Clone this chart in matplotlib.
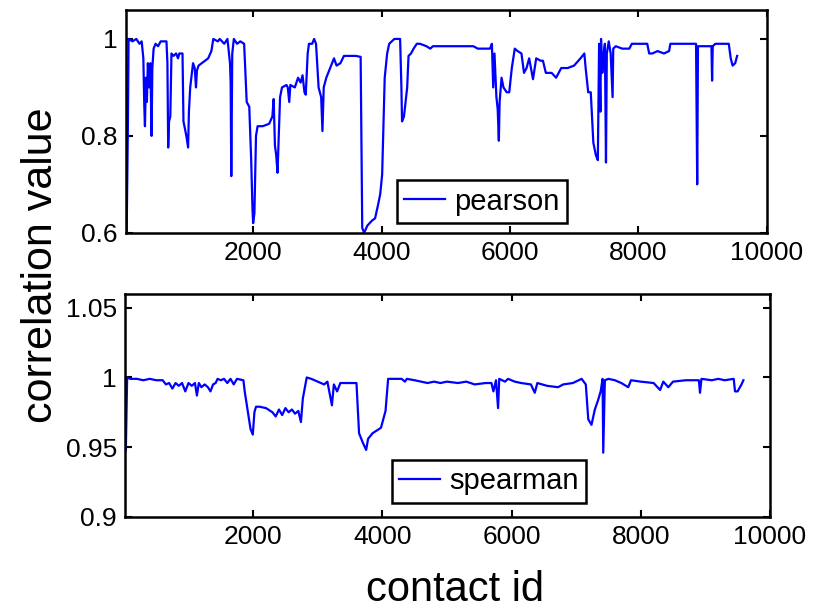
import matplotlib
matplotlib.use("Agg")
import matplotlib.pyplot as plt

plt.rcParams['font.family'] = ['Liberation Sans', 'DejaVu Sans']

# pearson correlation, breakpoints
pearson_x = [30, 50, 60, 120, 180, 230, 264, 290, 305, 315, 330, 345, 360, 380, 400, 418, 430, 450,
             480, 520, 560, 650, 665, 677, 690, 710, 728, 760, 800, 830, 850, 900, 915, 960, 987, 1000,
             1020, 1064, 1090, 1110, 1125, 1150, 1200, 1250, 1300, 1350, 1380, 1450, 1480, 1550, 1600,
             1640, 1650, 1660, 1675, 1700, 1750, 1800, 1860, 1880, 1900, 1940, 1970, 1990, 2000, 2020,
             2045, 2070, 2150, 2250, 2300, 2320, 2340, 2360, 2380, 2400, 2420, 2450, 2520, 2540, 2563,
             2580, 2650, 2700, 2740, 2770, 2800, 2820, 2850, 2870, 2920, 2950, 2980, 3020, 3060, 3080,
             3100, 3140, 3200, 3260, 3300, 3360, 3415, 3500, 3600, 3675, 3700, 3730, 3780, 3850, 3900,
             3950, 3980, 4010, 4050, 4088, 4120, 4200, 4290, 4310, 4320, 4350, 4400, 4421, 4460, 4500,
             4550, 4600, 4700, 4760, 4800, 5000, 5200, 5430, 5500, 5690, 5720, 5740, 5760, 5790, 5810,
             5828, 5840, 5870, 5900, 5950, 5990, 6030, 6076, 6120, 6180, 6220, 6260, 6300, 6360, 6410,
             6480, 6515, 6560, 6650, 6720, 6800, 6900, 7000, 7100, 7160, 7180, 7220, 7260, 7300, 7340,
             7370, 7390, 7410, 7420, 7440, 7460, 7480, 7497, 7510, 7540, 7570, 7600, 7610, 7650, 7750,
             7860, 7900, 8140, 8170, 8220, 8300, 8400, 8480, 8500, 8900, 8918, 8930, 9100, 9140, 9150,
             9160, 9200, 9410, 9440, 9470, 9510, 9540]
pearson_y = [0.60, 0.83, 1.0, 0.995, 1.0, 0.99, 0.995, 0.96, 0.86, 0.82, 0.92, 0.87, 0.95, 0.90, 0.95,
             0.80, 0.94, 0.98, 0.99, 0.985, 0.995, 0.995, 0.95, 0.776, 0.83, 0.84, 0.97, 0.965, 0.97,
             0.96, 0.97, 0.97, 0.83, 0.80, 0.776, 0.85, 0.90, 0.95, 0.94, 0.90, 0.935, 0.945, 0.95,
             0.955, 0.96, 0.975, 1.0, 0.995, 1.0, 0.99, 1.0, 0.95, 0.91, 0.717, 0.97, 1.0, 0.99, 0.995,
             0.99, 0.93, 0.87, 0.86, 0.75, 0.65, 0.62, 0.64, 0.80, 0.82, 0.82, 0.825, 0.84, 0.876, 0.78,
             0.76, 0.724, 0.80, 0.88, 0.90, 0.905, 0.90, 0.87, 0.905, 0.90, 0.92, 0.91, 0.925, 0.89,
             0.885, 0.97, 0.99, 0.99, 1.0, 0.99, 0.90, 0.88, 0.81, 0.90, 0.92, 0.94, 0.96, 0.945, 0.95,
             0.965, 0.965, 0.965, 0.963, 0.61, 0.60, 0.615, 0.625, 0.63, 0.66, 0.68, 0.72, 0.92, 0.97,
             0.99, 1.0, 1.0, 0.90, 0.83, 0.84, 0.90, 0.965, 0.97, 0.98, 0.99, 0.99, 0.985, 0.98, 0.985,
             0.985, 0.985, 0.985, 0.98, 0.98, 0.99, 0.90, 0.97, 0.88, 0.855, 0.79, 0.87, 0.92, 0.90,
             0.89, 0.89, 0.94, 0.98, 0.975, 0.97, 0.93, 0.94, 0.96, 0.917, 0.96, 0.955, 0.955, 0.93,
             0.93, 0.92, 0.94, 0.94, 0.945, 0.96, 0.97, 0.94, 0.89, 0.89, 0.786, 0.76, 0.75, 0.99, 0.85,
             1.0, 0.93, 0.97, 0.99, 0.745, 0.97, 0.995, 0.97, 0.88, 0.98, 0.985, 0.98, 0.98, 0.99, 0.99,
             0.97, 0.97, 0.975, 0.97, 0.975, 0.99, 0.99, 0.70, 0.985, 0.985, 0.985, 0.914, 0.985, 0.99,
             0.99, 0.96, 0.945, 0.95, 0.965]

# spearman correlation
spearman_x = [30, 50, 100, 200, 300, 400, 500, 600, 650, 700, 750, 800, 850, 900, 950, 1000, 1050, 1100,
              1130, 1160, 1200, 1250, 1300, 1340, 1380, 1420, 1450, 1500, 1550, 1600, 1650, 1700, 1750,
              1850, 1870, 1920, 1960, 1995, 2020, 2045, 2100, 2200, 2300, 2350, 2400, 2450, 2500, 2550,
              2600, 2650, 2700, 2740, 2770, 2830, 2900, 3000, 3100, 3150, 3220, 3250, 3300, 3350, 3400,
              3500, 3600, 3640, 3700, 3750, 3780, 3850, 3950, 3980, 4050, 4090, 4200, 4300, 4350, 4380,
              4500, 4600, 4700, 4800, 4900, 5000, 5172, 5300, 5430, 5600, 5689, 5720, 5760, 5792, 5810,
              5900, 5947, 6050, 6150, 6300, 6360, 6400, 6550, 6720, 6800, 6950, 7085, 7150, 7188, 7238,
              7290, 7342, 7380, 7410, 7420, 7445, 7500, 7600, 7700, 7807, 7850, 8000, 8200, 8300, 8350,
              8427, 8500, 8700, 8900, 8918, 8940, 9100, 9200, 9300, 9440, 9460, 9500, 9560, 9590]
spearman_y = [0.948, 1.0, 0.999, 0.999, 0.998, 0.999, 0.998, 0.998, 0.995, 0.996, 0.992, 0.996, 0.994,
              0.996, 0.99, 0.996, 0.994, 0.996, 0.987, 0.996, 0.993, 0.995, 0.993, 0.99, 0.995, 0.996,
              0.999, 0.998, 0.999, 0.996, 0.999, 0.995, 0.999, 0.998, 0.99, 0.975, 0.963, 0.959, 0.975,
              0.979, 0.979, 0.978, 0.975, 0.972, 0.977, 0.973, 0.978, 0.975, 0.977, 0.974, 0.976, 0.968,
              0.985, 1.0, 0.999, 0.997, 0.995, 0.997, 0.98, 0.995, 0.99, 0.996, 0.996, 0.996, 0.996,
              0.96, 0.953, 0.948, 0.956, 0.96, 0.963, 0.964, 0.976, 0.999, 0.999, 0.999, 0.997, 0.999,
              0.998, 0.997, 0.996, 0.997, 0.996, 0.997, 0.996, 0.997, 0.995, 0.996, 0.996, 0.99, 0.998,
              0.978, 0.999, 0.997, 0.999, 0.997, 0.996, 0.995, 0.989, 0.996, 0.994, 0.993, 0.995, 0.996,
              0.999, 0.995, 0.97, 0.966, 0.977, 0.984, 0.99, 0.999, 0.946, 0.998, 0.999, 0.998, 0.996,
              0.993, 0.998, 0.997, 0.996, 0.991, 0.997, 0.993, 0.997, 0.998, 0.998, 0.989, 0.999, 0.998,
              0.999, 0.998, 0.999, 0.99, 0.99, 0.995, 0.998]

x_ticks = [2000, 4000, 6000, 8000, 10000]
top_yticks = [0.6, 0.8, 1.0]
top_ylabels = ['0.6', '0.8', '1']
bot_yticks = [0.9, 0.95, 1.0, 1.05]
bot_ylabels = ['0.9', '0.95', '1', '1.05']

fig = plt.figure(figsize=(8.13, 6.16), dpi=100)
ax1 = fig.add_axes([0.155, 0.622, 0.788, 0.362])
ax2 = fig.add_axes([0.154, 0.161, 0.793, 0.362])

ax1.plot(pearson_x, pearson_y, color='#0000ff', lw=1.6, label='pearson')
ax2.plot(spearman_x, spearman_y, color='#0000ff', lw=1.6, label='spearman')

ax1.set_ylim(0.6, 1.06)
ax2.set_ylim(0.9, 1.06)
ax1.set_yticks(top_yticks, top_ylabels)
ax2.set_yticks(bot_yticks, bot_ylabels)

for ax in (ax1, ax2):
    ax.set_xlim(20, 10000)
    ax.set_xticks(x_ticks)
    ax.tick_params(direction='in', length=5, width=1.5, top=True, right=True,
                   labelsize=19, pad=6)
    for s in ax.spines.values():
        s.set_linewidth(1.8)

leg_kw = dict(loc='lower left', borderaxespad=0, fancybox=False, edgecolor='black',
              fontsize=21, handlelength=1.4, handletextpad=0.3, borderpad=0.25,
              framealpha=1)
l1 = ax1.legend(bbox_to_anchor=(0.423, 0.045), **leg_kw)
l2 = ax2.legend(bbox_to_anchor=(0.414, 0.063), **leg_kw)
for lg in (l1, l2):
    lg.get_frame().set_linewidth(1.8)

fig.text(0.05, 0.57, 'correlation value', rotation=90, ha='center', va='center', fontsize=31)
fig.text(0.56, 0.042, 'contact id', ha='center', va='center', fontsize=30)

fig.savefig('out.png', dpi=100)
